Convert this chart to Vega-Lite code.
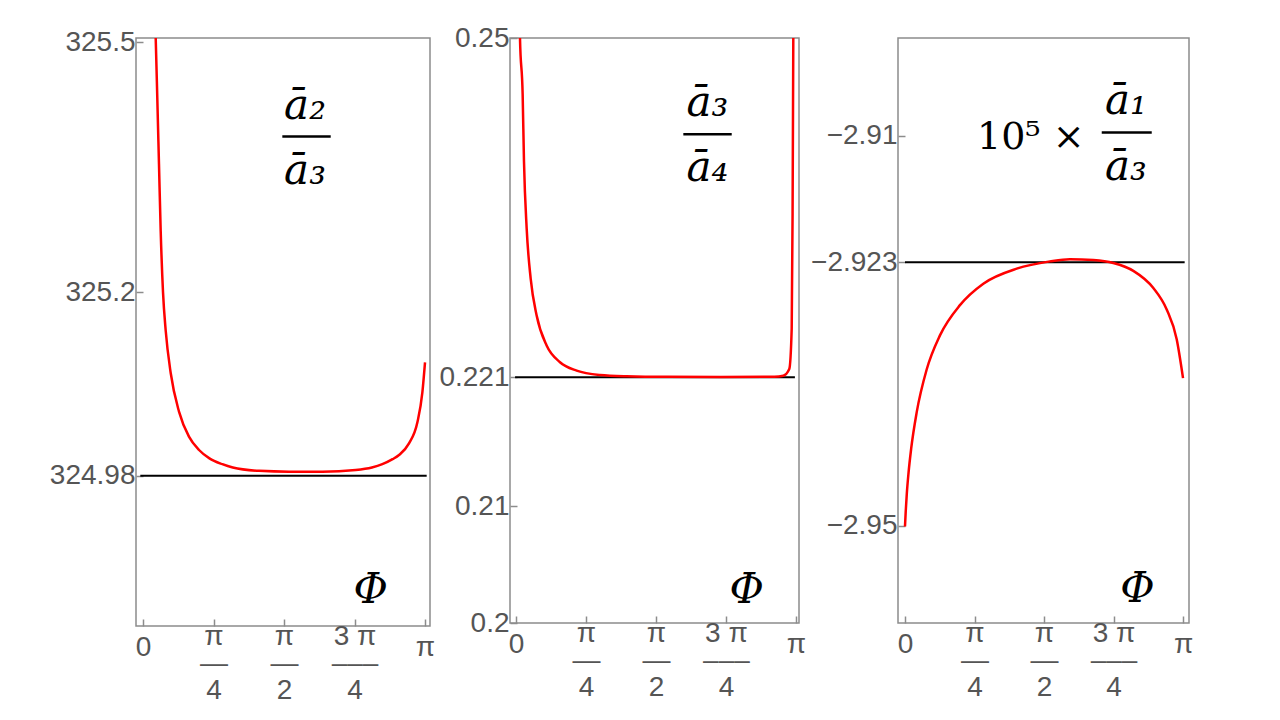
{
  "$schema": "https://vega.github.io/schema/vega-lite/v6.json",
  "background": "white",
  "padding": {"left": 48, "top": 23, "right": 5, "bottom": 5},
  "datasets": {
    "curve1": [
      {"x": 0.125, "y": 325.56}, {"x": 0.1415, "y": 325.505}, {"x": 0.159, "y": 325.434}, {"x": 0.178, "y": 325.354},
      {"x": 0.197, "y": 325.274}, {"x": 0.223, "y": 325.2}, {"x": 0.253, "y": 325.154}, {"x": 0.309, "y": 325.103},
      {"x": 0.401, "y": 325.057}, {"x": 0.512, "y": 325.027}, {"x": 0.624, "y": 325.011}, {"x": 0.74, "y": 325.001},
      {"x": 0.884, "y": 324.994}, {"x": 1.0, "y": 324.99}, {"x": 1.292, "y": 324.986}, {"x": 1.627, "y": 324.985},
      {"x": 1.998, "y": 324.985}, {"x": 2.37, "y": 324.987}, {"x": 2.55, "y": 324.99}, {"x": 2.666, "y": 324.994},
      {"x": 2.78, "y": 325.0}, {"x": 2.852, "y": 325.005}, {"x": 2.963, "y": 325.019}, {"x": 3.056, "y": 325.044},
      {"x": 3.112, "y": 325.08}, {"x": 3.1416, "y": 325.116}
    ],
    "ref1": [{"x": -0.03, "y": 324.98}, {"x": 3.16, "y": 324.98}],
    "curve2": [
      {"x": 0.04, "y": 0.2525}, {"x": 0.045, "y": 0.25}, {"x": 0.075, "y": 0.24517}, {"x": 0.09, "y": 0.23945},
      {"x": 0.12, "y": 0.23373}, {"x": 0.165, "y": 0.22944}, {"x": 0.232, "y": 0.22629}, {"x": 0.344, "y": 0.22371},
      {"x": 0.494, "y": 0.22229}, {"x": 0.681, "y": 0.22157}, {"x": 0.943, "y": 0.2212}, {"x": 1.242, "y": 0.22109},
      {"x": 1.7, "y": 0.22104}, {"x": 2.3, "y": 0.22103}, {"x": 2.9, "y": 0.22105}, {"x": 3.0, "y": 0.22114},
      {"x": 3.067, "y": 0.22171}, {"x": 3.094, "y": 0.22515}, {"x": 3.104, "y": 0.235}, {"x": 3.112, "y": 0.25},
      {"x": 3.114, "y": 0.2535}
    ],
    "ref2": [{"x": -0.01, "y": 0.221}, {"x": 3.13, "y": 0.221}],
    "curve3": [
      {"x": 0.0, "y": -2.9501}, {"x": 0.008, "y": -2.9486}, {"x": 0.02, "y": -2.9468}, {"x": 0.04, "y": -2.9446},
      {"x": 0.07, "y": -2.9421}, {"x": 0.132, "y": -2.9384},
      {"x": 0.245, "y": -2.934}, {"x": 0.395, "y": -2.9305}, {"x": 0.621, "y": -2.9274}, {"x": 0.885, "y": -2.9252},
      {"x": 1.262, "y": -2.92366}, {"x": 1.638, "y": -2.92291}, {"x": 1.864, "y": -2.92268}, {"x": 2.128, "y": -2.92277},
      {"x": 2.354, "y": -2.92308}, {"x": 2.58, "y": -2.92388}, {"x": 2.806, "y": -2.92564}, {"x": 2.957, "y": -2.92784},
      {"x": 3.07, "y": -2.9309}, {"x": 3.1416, "y": -2.93489}
    ],
    "ref3": [{"x": 0.0, "y": -2.923}, {"x": 3.16, "y": -2.923}],
    "frac1": [{"label": "ā₂", "x": 1.805, "y": 325.4084}, {"label": "ā₃", "x": 1.805, "y": 325.3305}],
    "bar1": [{"x": 1.552, "x2": 2.091, "y": 325.3868}],
    "phi1": [{"label": "Φ", "x": 2.537, "y": 324.8275}],
    "frac2": [{"label": "ā₃", "x": 2.149, "y": 0.24334}, {"label": "ā₄", "x": 2.149, "y": 0.23776}],
    "bar2": [{"x": 1.878, "x2": 2.421, "y": 0.24178}],
    "phi2": [{"label": "Φ", "x": 2.589, "y": 0.20172}],
    "frac3": [{"label": "ā₁", "x": 2.497, "y": -2.90784}, {"label": "ā₃", "x": 2.497, "y": -2.91454}],
    "bar3": [{"x": 2.223, "x2": 2.788, "y": -2.90969}],
    "phi3": [{"label": "Φ", "x": 2.627, "y": -2.95784}],
    "mult3": [{"label": "10⁵ ×", "x": 1.421, "y": -2.91134}]
  },
  "spacing": 2,
  "bounds": "full",
  "hconcat": [
    {
      "width": 294,
      "height": 588,
      "layer": [
        {
          "data": {"name": "ref1"},
          "mark": {"type": "line", "color": "#000000", "strokeWidth": 2},
          "encoding": {
            "x": {"field": "x", "type": "quantitative", "scale": {"domain": [-0.078, 3.197], "nice": false, "zero": false},
              "axis": {"title": null, "values": [0, 0.785398, 1.570796, 2.356194, 3.141593],
                "labelExpr": "datum.value < 0.1 ? '0' : datum.value < 1 ? ['π','—','4'] : datum.value < 2 ? ['π','—','2'] : datum.value < 3 ? ['3 π','–––','4'] : 'π'",
                "labelBaseline": "top", "labelLineHeight": 27, "labelFlush": false, "labelOverlap": false,
                "labelPadding": {"condition": {"test": "datum.value < 0.1 || datum.value > 3", "value": 14}, "value": 3}}},
            "y": {"field": "y", "type": "quantitative", "scale": {"domain": [324.8, 325.505], "nice": false, "zero": false},
              "axis": {"title": null, "values": [324.98, 325.2, 325.5], "format": ".2~f", "labelFlush": false, "labelOverlap": false, "labelPadding": 8}}
          }
        },
        {
          "data": {"name": "curve1"},
          "mark": {"type": "line", "color": "#ff0000", "strokeWidth": 2.5, "clip": true, "interpolate": "monotone"},
          "encoding": {"x": {"field": "x", "type": "quantitative"}, "y": {"field": "y", "type": "quantitative"}}
        },
        {
          "data": {"name": "bar1"},
          "mark": {"type": "rule", "color": "#000000", "strokeWidth": 2.5},
          "encoding": {"x": {"field": "x", "type": "quantitative"}, "x2": {"field": "x2"}, "y": {"field": "y", "type": "quantitative"}}
        },
        {
          "data": {"name": "frac1"},
          "mark": {"type": "text", "font": "DejaVu Serif", "fontStyle": "italic", "fontSize": 42, "align": "center", "baseline": "alphabetic", "color": "#000000"},
          "encoding": {"x": {"field": "x", "type": "quantitative"}, "y": {"field": "y", "type": "quantitative"}, "text": {"field": "label"}}
        },
        {
          "data": {"name": "phi1"},
          "mark": {"type": "text", "font": "DejaVu Serif", "fontStyle": "italic", "fontSize": 42, "align": "center", "baseline": "alphabetic", "color": "#000000"},
          "encoding": {"x": {"field": "x", "type": "quantitative"}, "y": {"field": "y", "type": "quantitative"}, "text": {"field": "label"}}
        }
      ]
    },
    {
      "width": 289,
      "height": 585,
      "layer": [
        {
          "data": {"name": "ref2"},
          "mark": {"type": "line", "color": "#000000", "strokeWidth": 2},
          "encoding": {
            "x": {"field": "x", "type": "quantitative", "scale": {"domain": [-0.067, 3.176], "nice": false, "zero": false},
              "axis": {"title": null, "values": [0, 0.785398, 1.570796, 2.356194, 3.141593],
                "labelExpr": "datum.value < 0.1 ? '0' : datum.value < 1 ? ['π','—','4'] : datum.value < 2 ? ['π','—','2'] : datum.value < 3 ? ['3 π','–––','4'] : 'π'",
                "labelBaseline": "top", "labelLineHeight": 27, "labelFlush": false, "labelOverlap": false,
                "labelPadding": {"condition": {"test": "datum.value < 0.1 || datum.value > 3", "value": 14}, "value": 3}}},
            "y": {"field": "y", "type": "quantitative", "scale": {"domain": [0.2, 0.25], "nice": false, "zero": false},
              "axis": {"title": null, "values": [0.2, 0.21, 0.221, 0.25], "format": ".3~f", "labelFlush": false, "labelOverlap": false, "labelPadding": 8}}
          }
        },
        {
          "data": {"name": "curve2"},
          "mark": {"type": "line", "color": "#ff0000", "strokeWidth": 2.5, "clip": true, "interpolate": "monotone"},
          "encoding": {"x": {"field": "x", "type": "quantitative"}, "y": {"field": "y", "type": "quantitative"}}
        },
        {
          "data": {"name": "bar2"},
          "mark": {"type": "rule", "color": "#000000", "strokeWidth": 2.5},
          "encoding": {"x": {"field": "x", "type": "quantitative"}, "x2": {"field": "x2"}, "y": {"field": "y", "type": "quantitative"}}
        },
        {
          "data": {"name": "frac2"},
          "mark": {"type": "text", "font": "DejaVu Serif", "fontStyle": "italic", "fontSize": 42, "align": "center", "baseline": "alphabetic", "color": "#000000"},
          "encoding": {"x": {"field": "x", "type": "quantitative"}, "y": {"field": "y", "type": "quantitative"}, "text": {"field": "label"}}
        },
        {
          "data": {"name": "phi2"},
          "mark": {"type": "text", "font": "DejaVu Serif", "fontStyle": "italic", "fontSize": 42, "align": "center", "baseline": "alphabetic", "color": "#000000"},
          "encoding": {"x": {"field": "x", "type": "quantitative"}, "y": {"field": "y", "type": "quantitative"}, "text": {"field": "label"}}
        }
      ]
    },
    {
      "width": 291,
      "height": 585,
      "layer": [
        {
          "data": {"name": "ref3"},
          "mark": {"type": "line", "color": "#000000", "strokeWidth": 2},
          "encoding": {
            "x": {"field": "x", "type": "quantitative", "scale": {"domain": [-0.079, 3.209], "nice": false, "zero": false},
              "axis": {"title": null, "values": [0, 0.785398, 1.570796, 2.356194, 3.141593],
                "labelExpr": "datum.value < 0.1 ? '0' : datum.value < 1 ? ['π','—','4'] : datum.value < 2 ? ['π','—','2'] : datum.value < 3 ? ['3 π','–––','4'] : 'π'",
                "labelBaseline": "top", "labelLineHeight": 27, "labelFlush": false, "labelOverlap": false,
                "labelPadding": {"condition": {"test": "datum.value < 0.1 || datum.value > 3", "value": 14}, "value": 3}}},
            "y": {"field": "y", "type": "quantitative", "scale": {"domain": [-2.96, -2.9], "nice": false, "zero": false},
              "axis": {"title": null, "values": [-2.95, -2.923, -2.91], "format": ".3~f", "labelFlush": false, "labelOverlap": false, "labelPadding": 8}}
          }
        },
        {
          "data": {"name": "curve3"},
          "mark": {"type": "line", "color": "#ff0000", "strokeWidth": 2.5, "clip": true, "interpolate": "monotone"},
          "encoding": {"x": {"field": "x", "type": "quantitative"}, "y": {"field": "y", "type": "quantitative"}}
        },
        {
          "data": {"name": "bar3"},
          "mark": {"type": "rule", "color": "#000000", "strokeWidth": 2.5},
          "encoding": {"x": {"field": "x", "type": "quantitative"}, "x2": {"field": "x2"}, "y": {"field": "y", "type": "quantitative"}}
        },
        {
          "data": {"name": "frac3"},
          "mark": {"type": "text", "font": "DejaVu Serif", "fontStyle": "italic", "fontSize": 42, "align": "center", "baseline": "alphabetic", "color": "#000000"},
          "encoding": {"x": {"field": "x", "type": "quantitative"}, "y": {"field": "y", "type": "quantitative"}, "text": {"field": "label"}}
        },
        {
          "data": {"name": "mult3"},
          "mark": {"type": "text", "font": "DejaVu Serif", "fontSize": 38, "align": "center", "baseline": "alphabetic", "color": "#000000"},
          "encoding": {"x": {"field": "x", "type": "quantitative"}, "y": {"field": "y", "type": "quantitative"}, "text": {"field": "label"}}
        },
        {
          "data": {"name": "phi3"},
          "mark": {"type": "text", "font": "DejaVu Serif", "fontStyle": "italic", "fontSize": 42, "align": "center", "baseline": "alphabetic", "color": "#000000"},
          "encoding": {"x": {"field": "x", "type": "quantitative"}, "y": {"field": "y", "type": "quantitative"}, "text": {"field": "label"}}
        }
      ]
    }
  ],
  "config": {
    "view": {"stroke": "#8c8c8c", "strokeWidth": 1.5},
    "axis": {
      "domain": false,
      "grid": false,
      "ticks": true,
      "tickColor": "#8c8c8c",
      "tickWidth": 1.5,
      "tickSize": -7,
      "labelColor": "#555555",
      "labelFont": "Liberation Sans",
      "labelFontSize": 28
    }
  }
}
